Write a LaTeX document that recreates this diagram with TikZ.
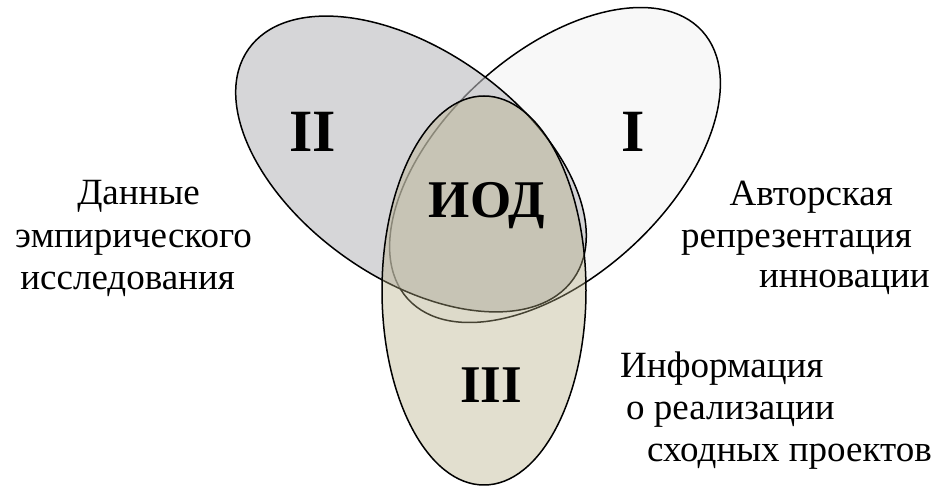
\documentclass[tikz,border=0pt]{standalone}
\usepackage{fontspec}
\setmainfont{Liberation Serif}
\definecolor{fillI}{RGB}{248,248,248}
\definecolor{fillII}{RGB}{187,187,190}
\definecolor{fillIII}{RGB}{181,173,132}
\begin{document}
\begin{tikzpicture}[x=1pt,y=1pt,
  ring/.style={draw=black, line width=1.5pt},
  side/.style={inner sep=0pt, font=\rmfamily\fontsize{37}{44}\selectfont},
  roman/.style={inner sep=0pt, anchor=base, font=\rmfamily\fontsize{60}{72}\selectfont\bfseries},
  core/.style={inner sep=0pt, anchor=base, font=\rmfamily\fontsize{53}{64}\selectfont\bfseries}]
\useasboundingbox (0,0) rectangle (938,487);
\coordinate (cI) at (555,322);
\coordinate (cII) at (411,323);
\coordinate (cIII) at (484,196.5);
% ellipse I (right)
\path[ring, fill=fillI, rotate around={42.3:(cI)}] (cI) ellipse [x radius=199pt, y radius=112pt];
% ellipse II (left)
\path[ring, fill=fillII, fill opacity=0.6, rotate around={-35.3:(cII)}] (cII) ellipse [x radius=199pt, y radius=114pt];
% ellipse III (bottom)
\path[ring, fill=fillIII, fill opacity=0.39] (cIII) ellipse [x radius=102pt, y radius=194.5pt];
% big labels
\node[roman] (lII) at (313,335) {II};
\node[roman] (lI) at (633,335) {I};
\node[core] (lIOD) at (487,269) {ИОД};
\node[core] (lIII) at (491,84) {III};
% left text
\node[side, anchor=base east] (l1) at (200,282) {Данные};
\node[side, anchor=base east] (l2) at (252,239) {эмпирического};
\node[side, anchor=base east] (l3) at (235,197) {исследования};
% right text
\node[side, anchor=base east] (r1) at (893,281) {Авторская};
\node[side, anchor=base east] (r2) at (912,239) {репрезентация};
\node[side, anchor=base east] (r3) at (930,199) {инновации};
% bottom right text
\node[side, anchor=base west] (b1) at (620,109) {Информация};
\node[side, anchor=base west] (b2) at (626,67) {о реализации};
\node[side, anchor=base west] (b3) at (647,25) {сходных проектов};
\end{tikzpicture}
\end{document}
